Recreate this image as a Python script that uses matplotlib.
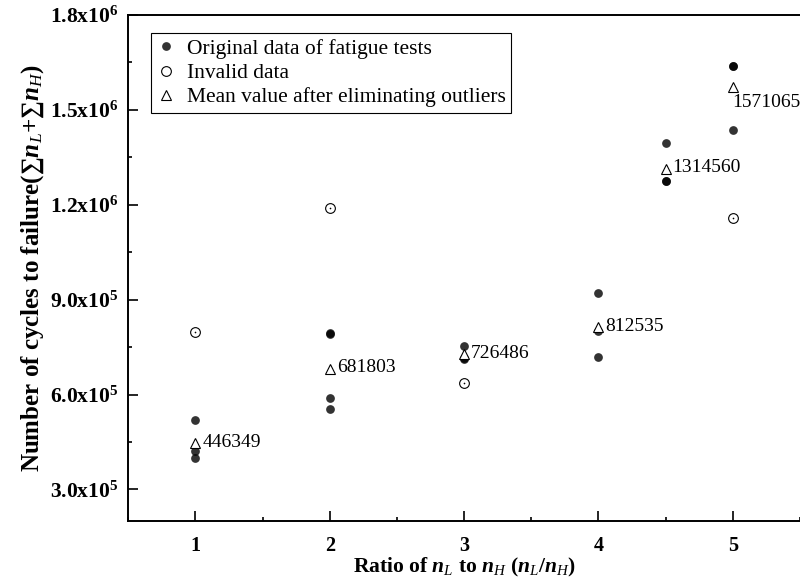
import matplotlib
matplotlib.use("Agg")
import matplotlib.pyplot as plt
from matplotlib.ticker import FixedLocator, MultipleLocator

plt.rcParams["font.family"] = ["Liberation Serif", "DejaVu Serif"]
plt.rcParams["mathtext.fontset"] = "custom"
plt.rcParams["mathtext.rm"] = "Liberation Serif"
plt.rcParams["mathtext.it"] = "Liberation Serif:italic"
plt.rcParams["mathtext.bf"] = "Liberation Serif:bold"
try:
    plt.rcParams["mathtext.bfit"] = "Liberation Serif:bold:italic"
except KeyError:
    pass

# Fatigue test results: cycles to failure for each load ratio
orig_x = [1, 1, 1,
          2, 2, 2, 2,
          3, 3, 3,
          4, 4, 4,
          4.5, 4.5, 4.5,
          5, 5, 5]
orig_y = [518000, 422000, 399000,
          794000, 791000, 588000, 554000,
          753000, 714000, 712000,
          920000, 800000, 717000,
          1396000, 1274000, 1274000,
          1640000, 1638000, 1435000]

invalid_x = [1, 2, 3, 5]
invalid_y = [797000, 1190000, 637000, 1159000]

mean_x = [1, 2, 3, 4, 4.5, 5]
mean_y = [446349, 681803, 726486, 812535, 1314560, 1571065]

x_ticks = [1, 2, 3, 4, 5]
y_ticks = [3.0e5, 6.0e5, 9.0e5, 1.2e6, 1.5e6, 1.8e6]
y_tick_labels = [r"$\mathbf{3.0x10^5}$", r"$\mathbf{6.0x10^5}$", r"$\mathbf{9.0x10^5}$",
                 r"$\mathbf{1.2x10^6}$", r"$\mathbf{1.5x10^6}$", r"$\mathbf{1.8x10^6}$"]

fig = plt.figure(figsize=(8.0, 5.85), dpi=100)
ax = fig.add_axes([128.3 / 800, 64 / 585, 1 - 128.3 / 800, 506 / 585])

ax.plot(orig_x, orig_y, linestyle="none", marker="o", markersize=6.3,
        color="black", alpha=0.8, markeredgewidth=0,
        label="Original data of fatigue tests")
ax.plot(invalid_x, invalid_y, linestyle="none", marker="o", markersize=7,
        markerfacecolor="white", markeredgecolor="black", markeredgewidth=0.8,
        label="Invalid data")
ax.plot(invalid_x, invalid_y, linestyle="none", marker="o", markersize=1.2,
        color="black", markeredgewidth=0)
ax.plot(mean_x, mean_y, linestyle="none", marker="^", markersize=7.5,
        markerfacecolor="white", markeredgecolor="black", markeredgewidth=0.8,
        label="Mean value after eliminating outliers")

for xv, yv in zip(mean_x, mean_y):
    if xv == 5:
        ax.annotate(f"{yv}", (xv, yv), xytext=(-1, -15), textcoords="offset pixels",
                    ha="left", va="center", fontsize=14)
    else:
        ax.annotate(f"{yv}", (xv, yv), xytext=(7, 1), textcoords="offset pixels",
                    ha="left", va="center", fontsize=14)

ax.set_xlim(0.5, 5.5)
ax.set_ylim(2.0e5, 1.8e6)
ax.xaxis.set_major_locator(FixedLocator(x_ticks))
ax.xaxis.set_minor_locator(MultipleLocator(0.5))
ax.set_xticklabels([str(v) for v in x_ticks], fontsize=14.5, fontweight="bold")
ax.yaxis.set_major_locator(FixedLocator(y_ticks))
ax.yaxis.set_minor_locator(MultipleLocator(1.5e5))
ax.set_yticklabels(y_tick_labels, fontsize=15.5)

ax.tick_params(which="both", direction="in", width=1.2, top=False, right=False)
ax.tick_params(which="major", length=7)
ax.tick_params(which="minor", length=3.2)
ax.tick_params(axis="x", pad=11)
ax.tick_params(axis="y", pad=7)

for side in ("left", "bottom", "top"):
    ax.spines[side].set_linewidth(1.4)
ax.spines["right"].set_visible(False)

ax.set_xlabel(r"Ratio of $\mathbfit{n}_L$ to $\mathbfit{n}_H$ ($\mathbfit{n}_L$/$\mathbfit{n}_H$)",
              fontsize=15.5, fontweight="bold", labelpad=0)
ax.set_ylabel(r"Number of cycles to failure(∑$\mathbfit{n}_L$+∑$\mathbfit{n}_H$)",
              fontsize=18, fontweight="bold", labelpad=3)

leg = ax.legend(loc="upper left", bbox_to_anchor=(0.034, 0.964), borderaxespad=0,
                fontsize=15.5, frameon=True, fancybox=False, framealpha=1,
                edgecolor="black", handlelength=0.9, handletextpad=0.5,
                labelspacing=0.2, borderpad=0.25)
leg.get_frame().set_linewidth(0.8)

fig.savefig("out.png", dpi=100)
